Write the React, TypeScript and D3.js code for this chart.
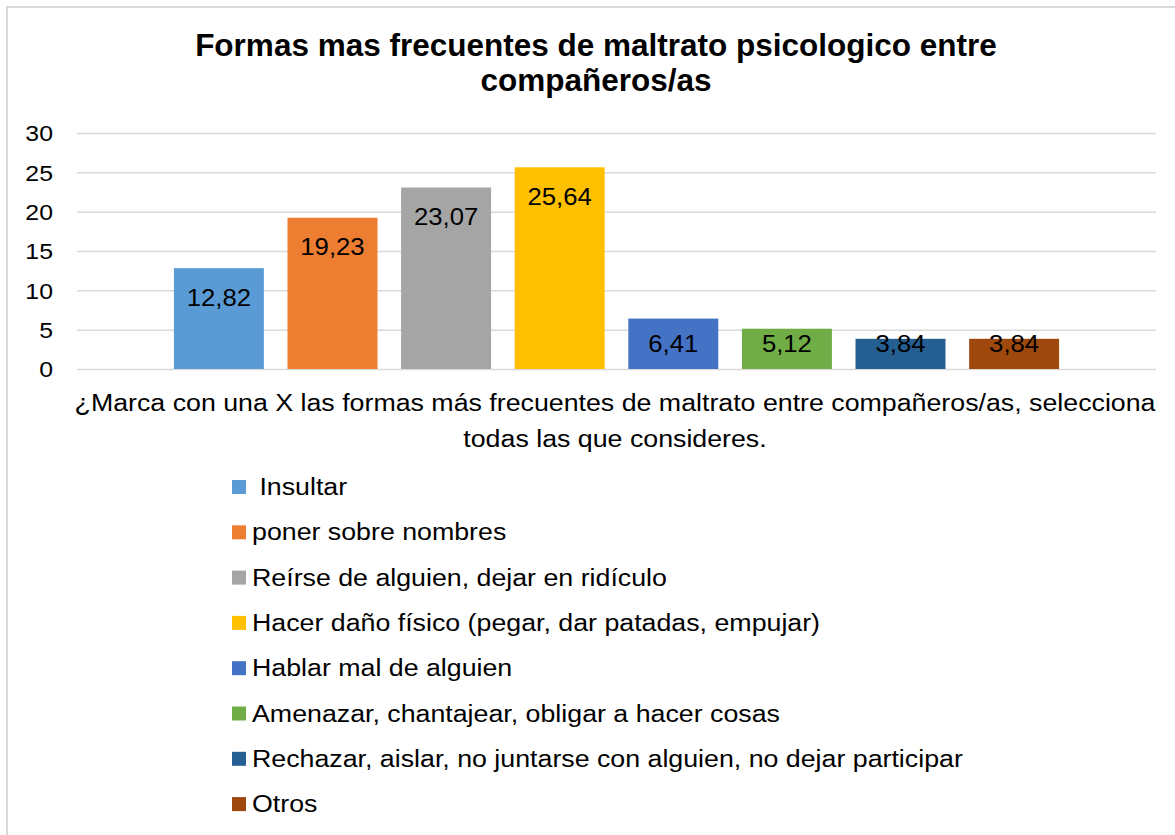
import { useEffect, useRef } from "react";
import * as d3 from "d3";

const series = [
  " Insultar",
  "poner sobre nombres",
  "Reírse de alguien, dejar en ridículo",
  "Hacer daño físico (pegar, dar patadas, empujar)",
  "Hablar mal de alguien",
  "Amenazar, chantajear, obligar a hacer cosas",
  "Rechazar, aislar, no juntarse con alguien, no dejar participar",
  "Otros",
];
const values = [12.82, 19.23, 23.07, 25.64, 6.41, 5.12, 3.84, 3.84];
const colors = ["#5B9BD5", "#ED7D31", "#A5A5A5", "#FFC000", "#4472C4", "#70AD47", "#255E91", "#9E480E"];
const yTicks = [0, 5, 10, 15, 20, 25, 30];
const titleLines = ["Formas mas frecuentes de maltrato psicologico entre", "compañeros/as"];
const axisLines = [
  "¿Marca con una X las formas más frecuentes de maltrato entre compañeros/as, selecciona",
  "todas las que consideres.",
];

export default function App() {
  const ref = useRef<SVGSVGElement>(null);

  useEffect(() => {
    const width = 1175;
    const height = 835;
    const marginLeft = 77;
    const marginRight = 19;
    const plotTop = 133;
    const plotBottom = 369;
    const font = "Arial, 'Liberation Sans', sans-serif";
    const sx = 1.164; // the source text is a bit wider than plain Arial

    const svg = d3.select(ref.current);
    svg.selectAll("*").remove();
    svg.attr("width", width).attr("height", height).attr("viewBox", [0, 0, width, height])
      .style("position", "absolute").style("left", "0px").style("top", "0px")
      .style("font-family", font);

    svg.append("rect").attr("width", width).attr("height", height).attr("fill", "#fff");

    // outer chart border (only top and left edges fall inside the picture)
    svg.append("path")
      .attr("d", `M7,${height} V7 H${width}`)
      .attr("fill", "none").attr("stroke", "#d9d9d9").attr("stroke-width", 2);

    const x = d3.scaleBand<string>().domain(series).range([marginLeft, width - marginRight])
      .paddingInner(0.208).paddingOuter(0.853);
    const y = d3.scaleLinear().domain([0, 30]).range([plotBottom, plotTop]);

    // title
    svg.append("g").selectAll("text").data(titleLines).join("text")
      .attr("x", 596).attr("y", (_, i) => 56 + i * 35)
      .attr("text-anchor", "middle").attr("font-weight", "bold").attr("font-size", 31.5)
      .attr("fill", "#000").text(d => d);

    // grid + y axis
    const yAxis = svg.append("g").attr("transform", `translate(${marginLeft},0)`)
      .call(d3.axisLeft(y).tickValues(yTicks).tickSize(0).tickPadding(24))
      .call(g => g.select(".domain").remove());
    yAxis.selectAll(".tick line").clone()
      .attr("x2", width - marginLeft - marginRight)
      .attr("stroke", "#d9d9d9").attr("stroke-width", 1.5);
    yAxis.selectAll(".tick text")
      .attr("x", 0).attr("dy", "0.36em")
      .attr("transform", "translate(-24,0) scale(1.13,1)")
      .attr("font-size", 22).attr("font-family", font).attr("fill", "#000");

    // bars
    svg.append("g").selectAll("rect").data(values).join("rect")
      .attr("x", (_, i) => x(series[i])!)
      .attr("y", d => y(d))
      .attr("width", x.bandwidth())
      .attr("height", d => y(0) - y(d))
      .attr("fill", (_, i) => colors[i]);

    // data labels (inside end, short bars keep a floor)
    svg.append("g").selectAll("text").data(values).join("text")
      .attr("transform", (d, i) =>
        `translate(${x(series[i])! + x.bandwidth() / 2},${Math.min(y(d) + 37.5, 352)}) scale(1.05,1)`)
      .attr("text-anchor", "middle").attr("font-size", 24.5).attr("fill", "#000")
      .text(d => d.toFixed(2).replace(".", ","));

    // axis title
    svg.append("g").selectAll("text").data(axisLines).join("text")
      .attr("transform", (_, i) => `translate(615,${411 + i * 35.5}) scale(${sx},1)`)
      .attr("text-anchor", "middle").attr("font-size", 23).attr("fill", "#000")
      .text(d => d);

    // legend
    const legend = svg.append("g").selectAll("g").data(series).join("g")
      .attr("transform", (_, i) => `translate(232,${487 + i * 45.3})`);
    legend.append("rect").attr("x", 0).attr("y", -7).attr("width", 14).attr("height", 14)
      .attr("fill", (_, i) => colors[i]);
    legend.append("text").attr("transform", `translate(20,8) scale(${sx},1)`)
      .attr("font-size", 23).attr("fill", "#000")
      .style("white-space", "pre").text(d => d);
  }, []);

  return <svg ref={ref}></svg>;
}
